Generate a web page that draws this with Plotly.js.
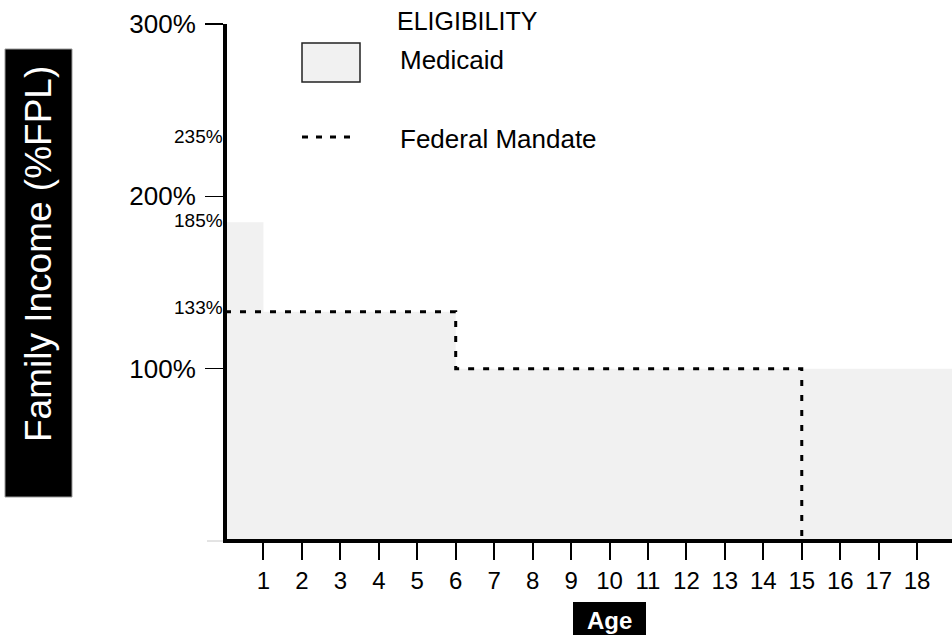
<!DOCTYPE html>
<html>
<head>
<meta charset="utf-8">
<script src="https://cdn.plot.ly/plotly-3.0.1.min.js"></script>
<style>html,body{margin:0;padding:0;background:#fff;}#chart{width:952px;height:635px;}</style>
</head>
<body>
<div id="chart"></div>
<script>
// Medicaid eligibility steps (age where the level starts, %FPL)
const medicaidAges = [0, 1, 6, 15, 19];
const medicaidLevels = [185, 133, 100, 100, 100];
// Federal mandate steps
const mandateAges = [0, 6, 15];
const mandateLevels = [133, 100, 0];
// Axis ticks
const ageTicks = [1,2,3,4,5,6,7,8,9,10,11,12,13,14,15,16,17,18];
const incomeTicks = [100, 200, 300];
const incomeTickText = ['100%', '200%', '300%'];
// Small reference labels on the income axis
const markerLevels = [235, 185, 133];
const markerText = ['235%', '185%', '133%'];

const FONT = 'Arial, "Liberation Sans", Helvetica, sans-serif';

const traces = [
  {
    x: medicaidAges, y: medicaidLevels, type: 'scatter', mode: 'lines',
    line: {shape: 'hv', width: 0, color: '#f1f1f1'},
    fill: 'tozeroy', fillcolor: '#f1f1f1', hoverinfo: 'skip', showlegend: false
  },
  {
    x: mandateAges, y: mandateLevels, type: 'scatter', mode: 'lines',
    line: {shape: 'hv', width: 3, color: '#000', dash: '6px,9px'},
    hoverinfo: 'skip', showlegend: false
  }
];

// pixel -> paper fraction helpers for the decorations
const W = 952, H = 635, mL = 227, mR = 0, mT = 24, mB = 96;
const pw = W - mL - mR, ph = H - mT - mB;
function px(x) { return (x - mL) / pw; }
function py(y) { return 1 - (y - mT) / ph; }

const markerShifts = [0, 2, 4];
const annotations = markerLevels.map((v, i) => ({
  x: px(225), y: v, xref: 'paper', yref: 'y', text: markerText[i], showarrow: false,
  xanchor: 'right', yanchor: 'middle', yshift: markerShifts[i],
  font: {family: FONT, size: 19, color: '#000'}
}));

const paperNotes = [
  {x: 395, y: 21, text: 'ELIGIBILITY', xanchor: 'left', size: 25, color: '#000'},
  {x: 398, y: 60, text: 'Medicaid', xanchor: 'left', size: 26, color: '#000'},
  {x: 398, y: 139, text: 'Federal Mandate', xanchor: 'left', size: 26, color: '#000'},
  {x: 38, y: 254, text: 'Family Income (%FPL)', xanchor: 'center', size: 37, color: '#fff', angle: -90},
  {x: 609, y: 620, text: '<b>Age</b>', xanchor: 'center', size: 24, color: '#fff'}
];
paperNotes.forEach(n => annotations.push({
  x: px(n.x), y: py(n.y), xref: 'paper', yref: 'paper', text: n.text, showarrow: false,
  textangle: n.angle || 0, xanchor: n.xanchor, yanchor: 'middle',
  font: {family: FONT, size: n.size, color: n.color}
}));

const shapes = [
  // y title box
  {type: 'rect', xref: 'paper', yref: 'paper', x0: px(5), x1: px(72), y0: py(49), y1: py(497),
   fillcolor: '#000', line: {color: '#999', width: 1}, layer: 'below'},
  // x title box
  {type: 'rect', xref: 'paper', yref: 'paper', x0: px(573), x1: px(646), y0: py(602), y1: py(640),
   fillcolor: '#000', line: {width: 0}, layer: 'below'},
  // legend swatch
  {type: 'rect', xref: 'paper', yref: 'paper', x0: px(302), x1: px(360), y0: py(43), y1: py(82),
   fillcolor: '#f1f1f1', line: {color: '#222', width: 1.5}},
  // legend dashed line
  {type: 'line', xref: 'paper', yref: 'paper', x0: px(302), x1: px(356), y0: py(137), y1: py(137),
   line: {color: '#000', width: 3, dash: '6px,8px'}},
  // faint zero tick
  {type: 'line', xref: 'paper', yref: 'paper', x0: px(207), x1: px(223), y0: py(541), y1: py(541),
   line: {color: '#c8c8c8', width: 1}}
];

const layout = {
  width: W, height: H,
  margin: {l: mL, r: mR, t: mT, b: mB, pad: 0},
  paper_bgcolor: '#fff', plot_bgcolor: '#fff',
  showlegend: false,
  font: {family: FONT, color: '#000'},
  xaxis: {
    range: [0.052, 18.907], tickvals: ageTicks, ticktext: ageTicks.map(String),
    ticks: 'outside', ticklen: 17, tickwidth: 2, tickcolor: '#000',
    showline: true, linewidth: 4, linecolor: '#000', showgrid: false, zeroline: false,
    tickfont: {family: FONT, size: 24, color: '#000'}, fixedrange: true
  },
  yaxis: {
    range: [1.16, 300], tickvals: incomeTicks, ticktext: incomeTickText,
    ticks: 'outside', ticklen: 18, tickwidth: 1.5, tickcolor: '#000',
    showline: true, linewidth: 4, linecolor: '#000', showgrid: false, zeroline: false,
    tickfont: {family: FONT, size: 26, color: '#000'}, ticklabelstandoff: 4, fixedrange: true
  },
  annotations: annotations,
  shapes: shapes
};

Plotly.newPlot('chart', traces, layout, {displayModeBar: false, staticPlot: true});
</script>
</body>
</html>
